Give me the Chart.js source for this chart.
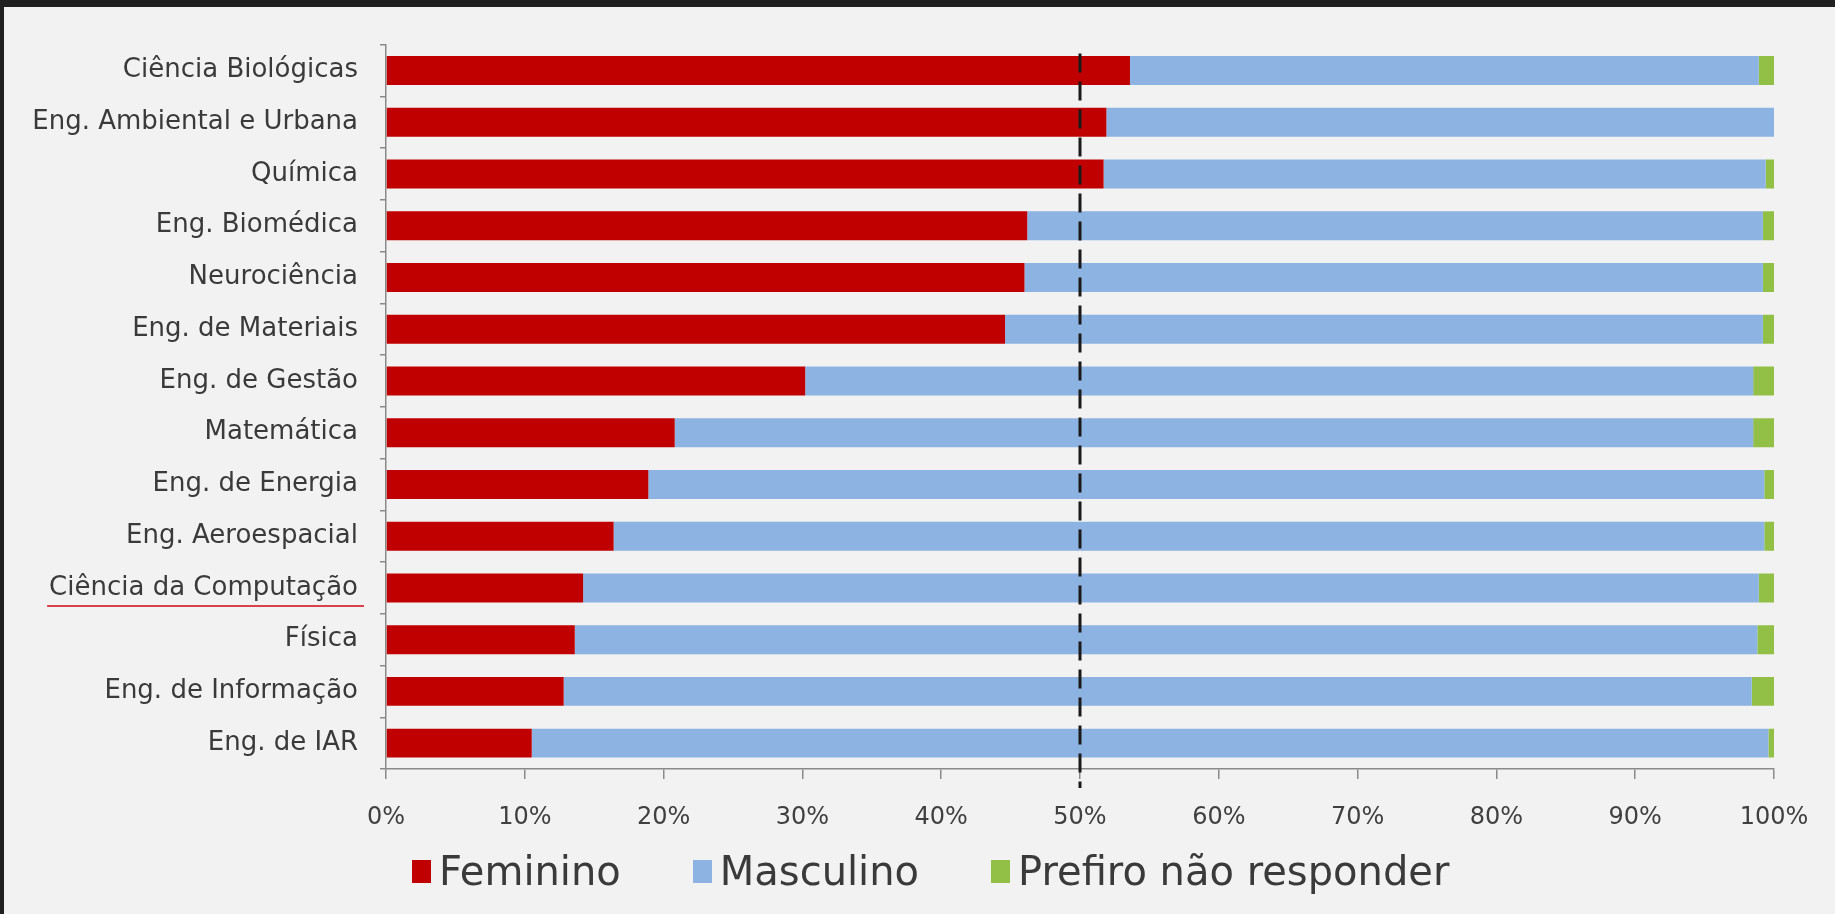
<!DOCTYPE html>
<html>
<head>
<meta charset="utf-8">
<script src="https://cdn.jsdelivr.net/npm/chart.js@4.4.1/dist/chart.umd.min.js"></script>
<style>
  html, body { margin: 0; padding: 0; background: #202020; width: 1835px; height: 914px; overflow: hidden; }
  #panel { position: absolute; left: 4px; top: 7px; width: 1831px; height: 907px; background: #f2f2f2; }
  #c { display: block; }
  #legend { position: absolute; left: 408px; top: 839px; height: 50px; display: flex; align-items: center; gap: 72px;
            font-family: 'DejaVu Sans', sans-serif; font-size: 40px; color: #3a3a3a; white-space: nowrap; }
  #legend .item { display: flex; align-items: center; gap: 8px; }
  #legend .box { width: 19px; height: 23px; display: inline-block; }
</style>
</head>
<body>
<div id="panel"><canvas id="c" width="1831" height="907"></canvas><div id="legend"></div></div>
<script>
// ---- data (percent of students per course) ----
const categories = [
  "Ciência Biológicas",
  "Eng. Ambiental e Urbana",
  "Química",
  "Eng. Biomédica",
  "Neurociência",
  "Eng. de Materiais",
  "Eng. de Gestão",
  "Matemática",
  "Eng. de Energia",
  "Eng. Aeroespacial",
  "Ciência da Computação",
  "Física",
  "Eng. de Informação",
  "Eng. de IAR"
];
const feminino = [53.6, 51.9, 51.7, 46.2, 46.0, 44.6, 30.2, 20.8, 18.9, 16.4, 14.2, 13.6, 12.8, 10.5];
const masculino = [45.3, 48.1, 47.7, 53.0, 53.2, 54.6, 68.3, 77.7, 80.4, 82.9, 84.7, 85.2, 85.6, 89.1];
const prefiroNaoResponder = [1.1, 0.0, 0.6, 0.8, 0.8, 0.8, 1.5, 1.5, 0.7, 0.7, 1.1, 1.2, 1.6, 0.4];
const xTicks = [0, 10, 20, 30, 40, 50, 60, 70, 80, 90, 100];
const seriesNames = ["Feminino", "Masculino", "Prefiro não responder"];
const seriesColors = ['#c00000', '#8db3e2', '#92c047'];
const referenceLine = 50;
const highlighted = "Ciência da Computação";

const FONT = "'DejaVu Sans', sans-serif";
const Y_FONT_SIZE = 26;
const Y_TICK_LEN = 6, Y_PAD = 22;

const refLinePlugin = {
  id: 'refLine',
  afterDatasetsDraw(chart) {
    const {ctx, chartArea, scales} = chart;
    const x = scales.x.getPixelForValue(referenceLine);
    ctx.save();
    ctx.strokeStyle = '#1a1a1a';
    ctx.lineWidth = 3;
    ctx.setLineDash([19, 9]);
    ctx.beginPath();
    ctx.moveTo(x, chartArea.top + 9);
    ctx.lineTo(x, chartArea.bottom + 19);
    ctx.stroke();
    ctx.restore();
  }
};

const underlinePlugin = {
  id: 'underline',
  afterDraw(chart) {
    const {ctx, scales} = chart;
    const ys = scales.y;
    const idx = categories.indexOf(highlighted);
    if (idx < 0) return;
    ctx.save();
    ctx.font = Y_FONT_SIZE + "px " + FONT;
    const w = ctx.measureText(highlighted).width;
    const right = ys.right - Y_TICK_LEN - Y_PAD;
    const y = ys.getPixelForValue(idx) + 18;
    ctx.strokeStyle = '#d9414f';
    ctx.lineWidth = 2;
    ctx.beginPath();
    ctx.moveTo(right - w - 2, y);
    ctx.lineTo(right + 6, y);
    ctx.stroke();
    ctx.restore();
  }
};

const chart = new Chart(document.getElementById('c'), {
  type: 'bar',
  data: {
    labels: categories,
    datasets: [
      { label: seriesNames[0], data: feminino, backgroundColor: seriesColors[0] },
      { label: seriesNames[1], data: masculino, backgroundColor: seriesColors[1] },
      { label: seriesNames[2], data: prefiroNaoResponder, backgroundColor: seriesColors[2] }
    ]
  },
  options: {
    indexAxis: 'y',
    responsive: false,
    animation: false,
    maintainAspectRatio: false,
    layout: { padding: { top: 30, right: 61, left: 0, bottom: 71 } },
    datasets: { bar: { categoryPercentage: 1.0, barPercentage: 0.56, borderWidth: 0 } },
    scales: {
      x: {
        stacked: true,
        min: 0, max: 100,
        afterBuildTicks(s) { s.ticks = xTicks.map(v => ({ value: v })); },
        afterFit(s) { s.height = 74; },
        grid: { drawOnChartArea: false, tickLength: 10, color: '#8a8a8a', lineWidth: 1.5 },
        border: { display: true, color: '#8a8a8a', width: 1.5 },
        ticks: { color: '#404040', padding: 24, font: { family: FONT, size: 24 }, callback: v => v + '%' }
      },
      y: {
        stacked: true,
        afterFit(s) { s.width = 382; },
        grid: { drawOnChartArea: false, tickLength: Y_TICK_LEN, color: '#8a8a8a', lineWidth: 1.5 },
        border: { display: true, color: '#8a8a8a', width: 1.5 },
        ticks: { color: '#3a3a3a', padding: Y_PAD, font: { family: FONT, size: Y_FONT_SIZE } }
      }
    },
    plugins: {
      legend: { display: false },
      tooltip: { enabled: false }
    }
  },
  plugins: [refLinePlugin, underlinePlugin]
});

// HTML legend built from the chart's datasets
const legendEl = document.getElementById('legend');
chart.data.datasets.forEach(ds => {
  const item = document.createElement('span');
  item.className = 'item';
  const box = document.createElement('span');
  box.className = 'box';
  box.style.background = ds.backgroundColor;
  const txt = document.createElement('span');
  txt.textContent = ds.label;
  item.appendChild(box);
  item.appendChild(txt);
  legendEl.appendChild(item);
});
</script>
</body>
</html>
